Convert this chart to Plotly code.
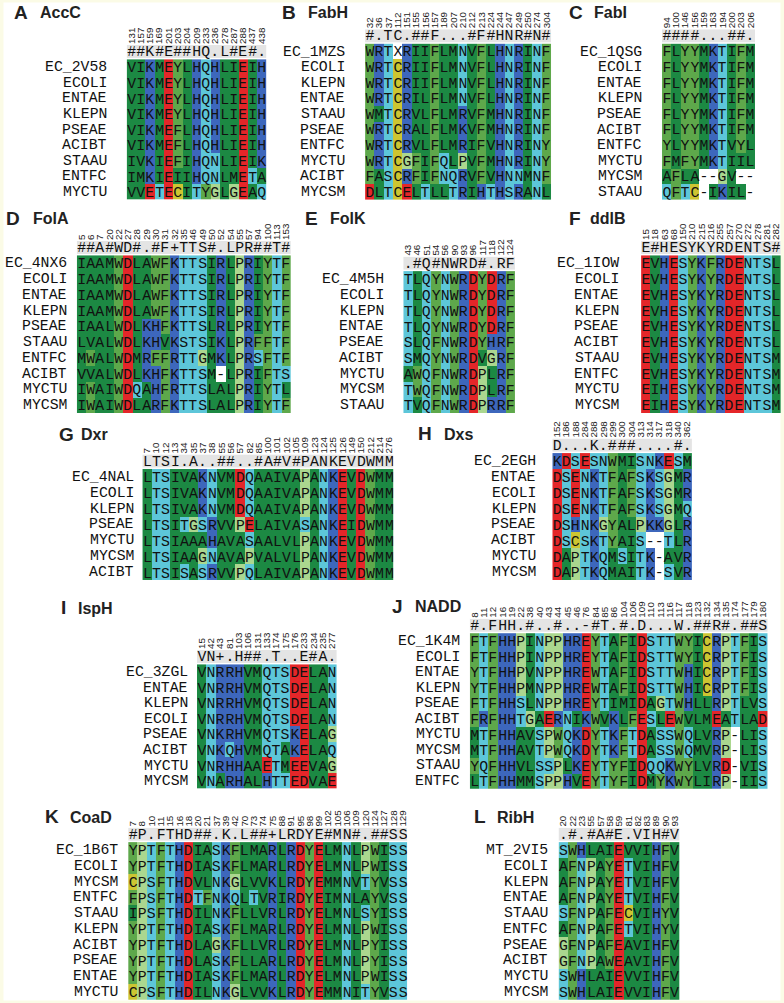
import plotly.graph_objects as go

W, H = 784, 1003

# ------------------------------------------------------------------ data
accc_numbers = [131, 157, 159, 169, 201, 203, 204, 209, 233, 236, 278, 287, 288, 437, 438]
accc_consensus = "##K#E##HQ.L#E#."
accc_labels = ["EC_2V58", "ECOLI", "ENTAE", "KLEPN", "PSEAE", "ACIBT", "STAAU", "ENTFC", "MYCTU"]
accc_seqs = ["VIKMEYLHQHLIEIH", "VIKMEYLHQHLIEIH", "VIKMEYLHQHLIEIH", "VIKMEYLHQHLIEIH",
             "VIKMEFLHQHLIEIH", "VIKMEFLHQHLIEIH", "IVKIEFIHQNLIEIK", "IMKIEIIHQNLMETA",
             "VVETECITYGLGEAQ"]

fabh_numbers = [32, 36, 37, 112, 151, 155, 156, 157, 189, 207, 210, 212, 213, 224, 244, 247, 249, 250, 274, 304]
fabh_consensus = "#.TC.##F...#F#HNR#N#"
fabh_labels = ["EC_1MZS", "ECOLI", "KLEPN", "ENTAE", "STAAU", "PSEAE", "ENTFC", "MYCTU", "ACIBT", "MYCSM"]
fabh_seqs = ["WRTXRIIFLMNVFLHNRINF", "WRTCRIIFLMNVFLHNRINF", "WRTCRIIFLMNVFLHNRINF",
             "WRTCRILFLMNVFLHNRINF", "WMTCRVLFLMRVFMHNRINF", "WRTCRALFLMKVFMHNRINF",
             "WRTCRVLFLMRIFVHNRINY", "WRTCGFIFQLPVFMHNRINY", "FASCRFIFNQRVFVHNNMNF",
             "DLTCELTLLTRIHTHSRANL"]

fabi_numbers = [94, 100, 146, 156, 159, 163, 194, 200, 203, 206]
fabi_consensus = "####...##."
fabi_labels = ["EC_1QSG", "ECOLI", "ENTAE", "KLEPN", "PSEAE", "ACIBT", "ENTFC", "MYCTU", "MYCSM", "STAAU"]
fabi_seqs = ["FLYYMKTIFM", "FLYYMKTIFM", "FLYYMKTIFM", "FLYYMKTIFM", "FLYYMKTIFM",
             "FLYYMKTIFM", "YLYYMKTVYL", "FMFYMKTIIL", "AFLA--GV--", "QFTC-IKIL-"]

fola_numbers = [5, 6, 7, 20, 22, 27, 28, 29, 30, 31, 32, 35, 46, 49, 50, 52, 54, 55, 57, 94, 100, 113, 153]
fola_consensus = "##A#WD#.#F+TTS#.LPR##T#"
fola_labels = ["EC_4NX6", "ECOLI", "ENTAE", "KLEPN", "PSEAE", "STAAU", "ENTFC", "ACIBT", "MYCTU", "MYCSM"]
fola_seqs = ["IAAMWDLAWFKTTSIRLPRIYTF", "IAAMWDLAWFKTTSIRLPRIYTF", "IAAMWDLAWFKTTSIRLPRIYTF",
             "IAAMWDLAWFKTTSIRLPRIYTF", "IAALWDLKHFKTTSLRLPRIYTF", "LVALWDLKHVKSTSIKLPRFFTF",
             "MWALWDMRFFRTTGMKLPRSFTF", "VVALWDLKHFKTTSM-LPRIFTS", "IWAIWDQAHFRTTSLALPRIYTL",
             "IWAIWDLARFKTTSLALPRIYTF"]

folk_numbers = [43, 46, 51, 54, 56, 90, 93, 96, 117, 118, 122, 124]
folk_consensus = ".#Q#NWRD#.RF"
folk_labels = ["EC_4M5H", "ECOLI", "KLEPN", "ENTAE", "PSEAE", "ACIBT", "MYCTU", "MYCSM", "STAAU"]
folk_seqs = ["TLQYNWRDYDRF", "TLQYNWRDYDRF", "TLQYNWRDYDRF", "TLQYNWRDYDRF", "SLQFNWRDYHRF",
             "SMQYNWRDVGRF", "AWQFNWRDPLRF", "TWQFNWRDPLRF", "TVQFNWRDPRRF"]

ddlb_numbers = [15, 18, 63, 68, 150, 210, 215, 216, 255, 257, 270, 272, 278, 281, 282]
ddlb_consensus = "E#HESYKYRDENTS#"
ddlb_labels = ["EC_1IOW", "ECOLI", "ENTAE", "KLEPN", "PSEAE", "ACIBT", "STAAU", "ENTFC", "MYCTU", "MYCSM"]
ddlb_seqs = ["EVHESYKFRDENTSL", "EVHESYKYRDENTSL", "EVHESYKYRDENTSL", "EVHESYKYRDENTSL",
             "EVHESYKYRDENTSL", "EVHESYKYRDENTSL", "EVHESYKYRDENTSM", "EVHESYKYRDENTSM",
             "EIHESYKYRDENTSM", "EIHESYKYRDENTSM"]

dxr_numbers = [7, 10, 12, 13, 34, 35, 37, 38, 55, 56, 57, 82, 85, 100, 101, 102, 105, 109,
               123, 124, 125, 126, 149, 150, 212, 214, 276]
dxr_consensus = "LTSI.A..##..#A#V#PANKEVDWMM"
dxr_labels = ["EC_4NAL", "ECOLI", "KLEPN", "PSEAE", "MYCTU", "MYCSM", "ACIBT"]
dxr_seqs = ["LTSIVAKNVMDQAAIVAPANKEVDWMM", "LTSIVAKNVMDQAAIVAPANKEVDWMM",
            "LTSIVAKNVMDQAAIVAPANKEVDWMM", "LTSITGSRVVPELAIVASANKEIDWMM",
            "LTSIAAAHAVASAALVLPANKEVDWMM", "LTSIAAGNAVAPVALVLPANKEVDWMM",
            "LTSISASRVVPQLAIVAPANKEVDWMM"]

dxs_numbers = [152, 186, 188, 284, 288, 298, 299, 300, 304, 313, 314, 317, 318, 340, 362]
dxs_consensus = "D...K.###....#."
dxs_labels = ["EC_2EGH", "ENTAE", "ECOLI", "KLEPN", "PSEAE", "ACIBT", "MYCTU", "MYCSM"]
dxs_seqs = ["KDSESNWMISNKESM", "DSENKTFAFSKSGMR", "DSENKTFAFSKSGMR", "DSENKTFAFSKSGMQ",
            "DSHNKGYALPKKGLR", "DSCSKTYAIS--TLR", "DAPTKQMSITK-AVR", "DAPTKQMAITK-SVR"]

isph_numbers = [15, 42, 43, 81, 103, 106, 131, 133, 174, 175, 176, 233, 234, 235, 277]
isph_consensus = "VN+.H##.T..E#A."
isph_labels = ["EC_3ZGL", "ENTAE", "KLEPN", "ECOLI", "PSEAE", "ACIBT", "MYCTU", "MYCSM"]
isph_seqs = ["VNRRHVMQTSDELAN", "VNRRHVMQTSDELAN", "VNRRHVMQTSDELAN", "VNRRHVMQTSDELAN",
             "VNKRHVMQTSKELAG", "VNKQHVMQTAKELAQ", "VNRHHAAETMEEVAG", "VNARHALHTTEDVAE"]

nadd_numbers = [8, 11, 12, 16, 19, 22, 38, 40, 43, 44, 45, 46, 76, 84, 85, 86, 104, 106, 109,
                110, 113, 116, 117, 118, 123, 132, 134, 135, 174, 177, 179, 180]
nadd_consensus = "#.FHH.#..#..-#T.#.D...W.##R#.##S"
nadd_labels = ["EC_1K4M", "ECOLI", "ENTAE", "KLEPN", "PSEAE", "ACIBT", "MYCTU", "MYCSM", "STAAU", "ENTFC"]
nadd_seqs = ["FTFHHPINPPHREYTAFIDSTTWYICRPTFIS", "FTFHHPINPPHREYTAFIDSTTWYICRPTFIS",
             "YTFHHPVNPPHREWTAFIDSTTWHICRPTFIS", "YTFHHPMNPPHREWTAFIDSTTWHICRPTFIS",
             "FTFHHSLNPPHREYTIMIDAGTWHLLRPTLVS", "FRFHHTGAERNIKWVKLFESLEWVLMEATLAD",
             "MTFHHAVSPWQKDYTKFTDASSWQLVRP-LIS", "MTFHHAVTPWQKDYTKFTDASSWQMVRP-LIS",
             "YQFHHVLSSPLKEYTYFIDQQKWYLVRD-VIS", "LTFHHMMSPPHVEYTYFIDMYKWYLIRP-IIS"]

coad_numbers = [7, 8, 10, 11, 15, 16, 18, 20, 21, 37, 39, 42, 70, 73, 74, 75, 88, 91, 95, 98,
                99, 102, 105, 106, 109, 120, 124, 127, 128, 129]
coad_consensus = "#P.FTHD##.K.L##+LRDYE#MN#.##SS"
coad_labels = ["EC_1B6T", "ECOLI", "MYCSM", "ENTFC", "STAAU", "KLEPN", "ACIBT", "PSEAE", "ENTAE", "MYCTU"]
coad_seqs = ["YPTFTHDIASKFLMARLRDYELMNLPWISS", "YPTFTHDIASKFLMARLRDYELMNLPWISS",
             "CPSFTHDVLNKGLVVKLRDYEMMNVTYVSS", "FPSFTHDTFNKQLTVRIRDYEIMNLAYVSS",
             "IPSFTHDILNKFLLVRLRDYELMNLSYISS", "YPTFTHDIASKFLMARLRDYELMNLPWISS",
             "YPTFTHDLAGKFLLVRLRDYELMNLPYISS", "YPTFTHDLASKFLLARLRDYELMNLPYISS",
             "YPTFTHDIASKFLMARLRDYELMNLPWISS", "CPSFTHDILNKGLVVKLRDYEMMNITYVSS"]

ribh_numbers = [20, 22, 23, 55, 57, 58, 59, 81, 82, 83, 89, 90, 93]
ribh_consensus = ".#.#A#E.VIH#V"
ribh_labels = ["MT_2VI5", "ECOLI", "KLEPN", "ENTAE", "STAAU", "ENTFC", "PSEAE", "ACIBT", "MYCTU", "MYCSM"]
ribh_seqs = ["SWHLAIEVVIHFV", "AFNPAYETVIHFV", "AFNPAYETVIHFV", "AFNPAYETVIHFV", "SFNPAFECVIHYV",
             "AFNPAFETVIHYV", "GFNPAFEAVIHFV", "GFNPAWEAVIHFV", "SWHLAIEVVIHFV", "SWHLAIEVVIHFV"]

panel_letters = ["A", "B", "C", "D", "E", "F", "G", "H", "I", "J", "K", "L"]
panel_titles = ["AccC", "FabH", "FabI", "FolA", "FolK", "ddlB", "Dxr", "Dxs", "IspH", "NADD", "CoaD", "RibH"]

# ------------------------------------------------------------------ styling
MONO = "Liberation Mono, Courier New, monospace"
SANS = "Liberation Sans, Arial, Helvetica, sans-serif"
CW = 9.33          # cell width (px)
CH = 12.5          # consensus bar height (px)
CG = 2.0           # gap between consensus bar and first row (px)
FS = 14.8          # residue font size

GROUPS = [("AILMV", 1), ("FWY", 2), ("PG", 3), ("KRH", 4), ("STNQ", 5), ("DE", 6), ("C", 7)]
COLORS = ["#ffffff", "#1c8943", "#5ea84b", "#abd78f", "#3d67bc", "#5dc6d9", "#e42629", "#cdc532", "#e4e4e4"]


def cat(ch):
    for letters, k in GROUPS:
        if ch in letters:
            return k
    return 0


colorscale = []
for i, c in enumerate(COLORS):
    colorscale.append([i / len(COLORS), c])
    colorscale.append([(i + 1) / len(COLORS), c])

# geometry per panel: alignment left x, label right x, first row centre y, row pitch,
# letter x, letter/title centre y, title x
GEOM = {
    "A": dict(ax=126.0, lx=108.5, r1=67.2, rh=15.6, px=11.0, py=12.0, tx=37.5),
    "B": dict(ax=365.0, lx=347.0, r1=51.6, rh=15.6, px=280.0, py=12.0, tx=306.0),
    "C": dict(ax=662.7, lx=645.0, r1=51.6, rh=15.6, px=567.5, py=12.0, tx=593.0),
    "D": dict(ax=76.0, lx=68.5, r1=263.3, rh=15.75, px=3.0, py=218.0, tx=30.0),
    "E": dict(ax=403.3, lx=385.5, r1=279.0, rh=15.75, px=303.0, py=218.0, tx=328.0),
    "F": dict(ax=641.7, lx=622.0, r1=263.3, rh=15.75, px=567.5, py=218.0, tx=588.0),
    "G": dict(ax=141.7, lx=135.0, r1=476.9, rh=15.85, px=56.5, py=434.0, tx=78.0),
    "H": dict(ax=552.7, lx=538.5, r1=461.0, rh=15.85, px=416.5, py=433.5, tx=442.0),
    "I": dict(ax=196.5, lx=189.0, r1=672.2, rh=15.55, px=58.0, py=607.5, tx=75.0),
    "J": dict(ax=470.0, lx=462.5, r1=641.0, rh=15.55, px=389.5, py=606.0, tx=413.0),
    "K": dict(ax=127.5, lx=119.0, r1=850.0, rh=15.75, px=42.0, py=816.5, tx=67.5),
    "L": dict(ax=559.0, lx=550.0, r1=850.0, rh=15.75, px=472.0, py=816.5, tx=495.0),
}

panels = [
    (accc_numbers, accc_consensus, accc_labels, accc_seqs),
    (fabh_numbers, fabh_consensus, fabh_labels, fabh_seqs),
    (fabi_numbers, fabi_consensus, fabi_labels, fabi_seqs),
    (fola_numbers, fola_consensus, fola_labels, fola_seqs),
    (folk_numbers, folk_consensus, folk_labels, folk_seqs),
    (ddlb_numbers, ddlb_consensus, ddlb_labels, ddlb_seqs),
    (dxr_numbers, dxr_consensus, dxr_labels, dxr_seqs),
    (dxs_numbers, dxs_consensus, dxs_labels, dxs_seqs),
    (isph_numbers, isph_consensus, isph_labels, isph_seqs),
    (nadd_numbers, nadd_consensus, nadd_labels, nadd_seqs),
    (coad_numbers, coad_consensus, coad_labels, coad_seqs),
    (ribh_numbers, ribh_consensus, ribh_labels, ribh_seqs),
]

fig = go.Figure()
annotations = []
layout_axes = {}

for idx, (nums, cons, labels, seqs) in enumerate(panels):
    letter = panel_letters[idx]
    g = GEOM[letter]
    n = len(seqs)
    ncol = len(cons)
    rh = g["rh"]
    k = idx + 1
    xa = "x" if k == 1 else f"x{k}"
    ya = "y" if k == 1 else f"y{k}"

    t1 = g["r1"] - rh / 2.0
    ctop = t1 - CG - CH
    pbot = t1 + n * rh
    top_u = -0.5 - (CG + CH) / rh

    z = [[cat(c) for c in s] for s in seqs]
    txt = [[c for c in s] for s in seqs]
    fig.add_trace(go.Heatmap(
        z=z, x=list(range(ncol)), y=list(range(n)), text=txt, texttemplate="%{text}",
        textfont=dict(family=MONO, size=FS, color="#111111"),
        colorscale=colorscale, zmin=-0.5, zmax=len(COLORS) - 0.5, showscale=False,
        hoverinfo="skip", xaxis=xa, yaxis=ya))
    fig.add_trace(go.Heatmap(
        z=[[len(COLORS) - 1] * ncol], x=list(range(ncol)), y=[top_u, -0.5 - CG / rh],
        text=[list(cons)], texttemplate="%{text}",
        textfont=dict(family=MONO, size=FS, color="#111111"),
        colorscale=colorscale, zmin=-0.5, zmax=len(COLORS) - 0.5, showscale=False,
        hoverinfo="skip", xaxis=xa, yaxis=ya))

    xkey = "xaxis" if k == 1 else f"xaxis{k}"
    ykey = "yaxis" if k == 1 else f"yaxis{k}"
    layout_axes[xkey] = dict(
        domain=[g["ax"] / W, (g["ax"] + ncol * CW) / W], range=[-0.5, ncol - 0.5],
        anchor=ya, side="top", tickmode="array", tickvals=list(range(ncol)),
        ticktext=[str(v) for v in nums], tickangle=-90, ticks="", ticklabelstandoff=0,
        tickfont=dict(family=SANS, size=9.8, color="#222222"),
        showgrid=False, zeroline=False, showline=False, fixedrange=True)
    layout_axes[ykey] = dict(
        domain=[1 - pbot / H, 1 - ctop / H], range=[n - 0.5, top_u], anchor=xa,
        showticklabels=False, ticks="", showgrid=False, zeroline=False, showline=False,
        fixedrange=True)

    for i, lab in enumerate(labels):
        annotations.append(dict(
            x=g["lx"] / W, y=1 - (g["r1"] + i * rh) / H, xref="paper", yref="paper",
            xanchor="right", yanchor="middle", text=lab, showarrow=False,
            font=dict(family=MONO, size=FS, color="#111111")))

    annotations.append(dict(
        x=g["px"] / W, y=1 - g["py"] / H, xref="paper", yref="paper", xanchor="left",
        yanchor="middle", text=f"<b>{letter}</b>", showarrow=False,
        font=dict(family=SANS, size=19, color="#222222")))
    annotations.append(dict(
        x=g["tx"] / W, y=1 - (g["py"] + 0.5) / H, xref="paper", yref="paper", xanchor="left",
        yanchor="middle", text=f"<b>{panel_titles[idx]}</b>", showarrow=False,
        font=dict(family=SANS, size=16, color="#222222")))

fig.update_layout(
    width=W, height=H, margin=dict(l=0, r=0, t=0, b=0),
    paper_bgcolor="#fbfbe6", plot_bgcolor="white",
    annotations=annotations, showlegend=False,
    shapes=[dict(type="rect", xref="paper", yref="paper", x0=2.5 / W, x1=1 - 2.5 / W,
                 y0=2.5 / H, y1=1 - 2.5 / H, fillcolor="white", line=dict(width=0),
                 layer="below")],
    **layout_axes)

fig.write_html("out.html", config={"displayModeBar": False, "staticPlot": True},
               post_script="document.body.style.margin='0px';")
